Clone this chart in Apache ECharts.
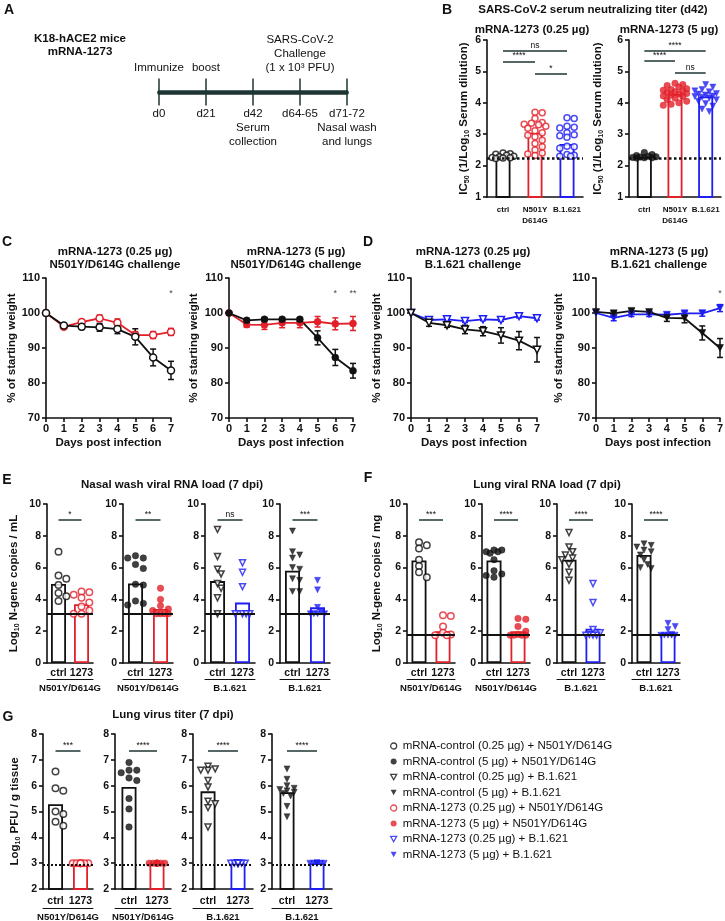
<!DOCTYPE html>
<html>
<head>
<meta charset="utf-8">
<script src="https://cdn.jsdelivr.net/npm/echarts@6/dist/echarts.min.js"></script>
<style>
  html, body { margin: 0; padding: 0; background: #fff; }
  #main { width: 725px; height: 921px; }
</style>
</head>
<body>
<div id="main"></div>
<script>
// ---------- data ----------
const timelineDays = ['d0', 'd21', 'd42\nSerum\ncollection', 'd64-65', 'd71-72\nNasal wash\nand lungs'];
const timelineEvents = ['Immunize', 'boost', '', 'SARS-CoV-2\nChallenge\n(1 x 10³ PFU)', ''];

// B: neutralizing titer
const titerGroups = ['ctrl', 'N501Y\nD614G', 'B.1.621'];
const titerLod = 2.25;
const titerLowCtrl = [2.40, 2.38, 2.36, 2.33, 2.30, 2.28, 2.26, 2.25, 2.24, 2.23];
const titerLowN501Y = [3.70, 3.68, 3.50, 3.37, 3.35, 3.32, 3.30, 3.25, 3.19, 3.11, 3.05, 2.97, 2.92, 2.81, 2.70, 2.60, 2.50, 2.40, 2.37, 2.32];
const titerLowB1621 = [3.52, 3.50, 3.25, 3.22, 3.20, 3.05, 2.98, 2.95, 2.90, 2.62, 2.60, 2.55, 2.35, 2.33, 2.30, 2.30];
const titerLowBars = [2.33, 3.05, 2.69];
const titerLowSig = [[0, 2, 5.65, 'ns'], [0, 1, 5.32, '****'], [1, 2, 4.92, '*']];
const titerHighCtrl = [2.42, 2.35, 2.32, 2.30, 2.28, 2.27, 2.26, 2.25, 2.25, 2.24];
const titerHighN501Y = [4.62, 4.58, 4.55, 4.50, 4.45, 4.42, 4.40, 4.38, 4.35, 4.33, 4.30, 4.28, 4.25, 4.22, 4.20, 4.15, 4.10, 4.05, 4.00, 3.95, 3.92];
const titerHighB1621 = [4.58, 4.50, 4.42, 4.38, 4.35, 4.30, 4.28, 4.25, 4.22, 4.20, 4.18, 4.15, 4.10, 4.05, 3.98, 3.90, 3.80, 3.72];
const titerHighBars = [2.28, 4.28, 4.20];
const titerHighSig = [[0, 2, 5.65, '****'], [0, 1, 5.33, '****'], [1, 2, 4.95, 'ns']];

// C, D: weight curves (mean, SEM)
const weightDays = [0, 1, 2, 3, 4, 5, 6, 7];
const weightSigLevel = 105.5;
const wN501YLowCtrl = [100, 96.4, 96.1, 95.9, 95.4, 93.2, 87.3, 83.6];
const wN501YLowCtrlSem = [0, 0.6, 0.8, 1.1, 1.3, 2.3, 2.4, 2.6];
const wN501YLowVac = [100, 96.1, 97.4, 98.5, 97.2, 93.7, 93.7, 94.6];
const wN501YLowVacSem = [0, 0.5, 0.7, 0.9, 1.1, 1.0, 1.0, 1.0];
const wN501YLowSig = [[7, '*']];
const wN501YHighCtrl = [100, 97.9, 98.2, 98.2, 98.2, 92.9, 87.3, 83.5];
const wN501YHighCtrlSem = [0, 0.5, 0.5, 0.5, 0.5, 2.0, 2.3, 2.1];
const wN501YHighVac = [100, 96.7, 96.6, 97.2, 97.2, 97.5, 96.9, 97.0];
const wN501YHighVacSem = [0, 0.8, 1.3, 1.4, 1.4, 1.5, 1.7, 2.0];
const wN501YHighSig = [[6, '*'], [7, '**']];
const wB1621LowCtrl = [100, 97.2, 96.5, 95.3, 94.8, 93.6, 92.1, 89.5];
const wB1621LowCtrlSem = [0, 1.0, 0.6, 1.2, 1.3, 2.2, 2.6, 3.5];
const wB1621LowVac = [100, 98.0, 98.2, 97.7, 98.2, 98.0, 99.1, 98.5];
const wB1621LowVacSem = [0, 0.4, 0.4, 0.4, 0.4, 0.4, 0.5, 0.5];
const wB1621LowSig = [];
const wB1621HighCtrl = [100.3, 99.9, 100.6, 100.3, 98.6, 98.5, 94.3, 90.0];
const wB1621HighCtrlSem = [0, 0.6, 0.6, 0.6, 1.0, 1.3, 2.0, 2.7];
const wB1621HighVac = [100, 98.6, 99.6, 99.6, 99.5, 99.9, 99.9, 101.4];
const wB1621HighVacSem = [0, 0.8, 0.6, 0.6, 0.6, 0.6, 0.8, 1.0];
const wB1621HighSig = [[7, '*']];

// E, F, G: per panel [0.25 N501Y, 5 N501Y, 0.25 B.1.621, 5 B.1.621]
const assayCats = ['ctrl', '1273'];
const challengeGroups = ['N501Y/D614G', 'N501Y/D614G', 'B.1.621', 'B.1.621'];

const nasalCtrl = [
  [7.0, 5.5, 5.3, 4.9, 4.4, 4.2, 3.9],
  [6.75, 6.6, 6.6, 6.2, 5.95, 4.95, 4.9, 3.9, 3.75, 3.65],
  [8.4, 6.7, 5.9, 5.6, 5.0, 4.7, 4.1, 3.1],
  [8.3, 7.0, 6.8, 6.6, 6.0, 5.9, 5.3, 5.2, 4.5, 4.5]
];
const nasalVac = [
  [4.5, 4.45, 4.3, 4.1, 3.8, 3.55, 3.3, 3.1, 3.1],
  [4.7, 4.0, 3.6, 3.4, 3.3, 3.1, 3.1, 3.1, 3.1],
  [6.3, 5.7, 4.8, 3.1, 3.1, 3.1, 3.1],
  [5.2, 4.6, 3.5, 3.2, 3.1, 3.1, 3.1, 3.1]
];
const nasalCtrlBars = [4.97, 5.0, 5.15, 5.8];
const nasalVacBars = [3.7, 3.4, 3.8, 3.5];
const nasalSig = ['*', '**', 'ns', '***'];
const nasalLod = 3.1;

const lungRnaCtrl = [
  [7.6, 7.4, 7.2, 6.5, 6.1, 5.7, 5.4],
  [7.1, 7.1, 7.0, 7.0, 6.9, 6.5, 5.8, 5.6, 5.5, 5.4],
  [8.2, 7.3, 7.0, 6.8, 6.6, 6.5, 6.2, 5.7, 5.2],
  [7.5, 7.4, 7.3, 7.1, 7.0, 6.8, 6.5, 6.2, 6.0, 5.95]
];
const lungRnaVac = [
  [3.0, 2.95, 2.3, 1.9, 1.8, 1.75, 1.75],
  [2.8, 2.75, 2.3, 2.0, 1.8, 1.75, 1.75, 1.75, 1.75],
  [5.0, 3.8, 2.1, 1.9, 1.8, 1.75, 1.75, 1.75],
  [2.5, 2.3, 2.1, 1.8, 1.75, 1.75, 1.75, 1.75, 1.75]
];
const lungRnaCtrlBars = [6.45, 6.45, 6.5, 6.8];
const lungRnaVacBars = [2.0, 2.0, 2.15, 1.85];
const lungRnaSig = ['***', '****', '****', '****'];
const lungRnaLod = 1.75;

const pfuCtrl = [
  [6.55, 5.9, 5.8, 5.0, 4.9, 4.6, 4.45],
  [6.9, 6.6, 6.6, 6.5, 6.3, 6.2, 5.5, 5.1, 4.4],
  [6.75, 6.65, 6.6, 6.6, 6.2, 5.95, 5.4, 5.3, 5.15, 4.4],
  [6.65, 6.25, 6.0, 5.9, 5.85, 5.8, 5.75, 5.7, 5.6, 5.2, 4.8]
];
const pfuVac = [
  [3, 3, 3, 3, 3, 3, 3],
  [3, 3, 3, 3, 3, 3, 3, 3, 3],
  [3, 3, 3, 3, 3, 3, 3, 3, 3, 3],
  [3, 3, 3, 3, 3, 3, 3, 3, 3, 3]
];
const pfuCtrlBars = [5.28, 5.95, 5.78, 5.75];
const pfuVacBars = [3.0, 3.0, 3.0, 3.0];
const pfuSig = ['***', '****', '****', '****'];
const pfuLod = 2.95;

const legendNames = [
  'mRNA-control (0.25 µg) + N501Y/D614G',
  'mRNA-control (5 µg) + N501Y/D614G',
  'mRNA-control (0.25 µg) + B.1.621',
  'mRNA-control (5 µg) + B.1.621',
  'mRNA-1273 (0.25 µg) + N501Y/D614G',
  'mRNA-1273 (5 µg) + N501Y/D614G',
  'mRNA-1273 (0.25 µg) + B.1.621',
  'mRNA-1273 (5 µg) + B.1.621'
];

// ---------- styling ----------
const FONT = '"Liberation Sans", Arial, Helvetica, sans-serif';
const INK = '#111111';
const RED = '#e2202a';
const BLUE = '#1e1ef2';
const TEAL = '#1c3633';
const TRI = 'path://M0,0L10,0L5,9Z';

const option = {
  animation: false,
  backgroundColor: '#fff',
  textStyle: { fontFamily: FONT },
  grid: [], xAxis: [], yAxis: [], series: [],
  graphic: { elements: [] }
};

function text(x, y, str, size, bold) {
  option.graphic.elements.push({
    type: 'text', x: x, y: y, silent: true,
    style: { text: str, fontSize: size, fontWeight: bold ? 'bold' : 'normal', fontFamily: FONT,
      fill: INK, align: 'center', verticalAlign: 'middle' }
  });
}

function addGrid(left, top, width, height) {
  option.grid.push({ left: left, top: top, width: width, height: height, outerBoundsMode: 'none' });
  return option.grid.length - 1;
}

function symStyle(shape, filled, color) {
  return {
    symbol: shape,
    itemStyle: filled ? { color: color, borderColor: color, borderWidth: 0.5 }
                      : { color: '#fff', borderColor: color, borderWidth: 1.5 }
  };
}

const nameStyle = {
  color: INK, fontFamily: FONT, fontWeight: 'bold', fontSize: 11.5,
  rich: {
    n: { fontSize: 11.5, fontWeight: 'bold', fontFamily: FONT, color: INK, lineHeight: 14 },
    s: { fontSize: 7, fontWeight: 'bold', fontFamily: FONT, color: INK, lineHeight: 14, verticalAlign: 'bottom' }
  }
};

function valueY(g, min, max, interval, tickSize, name, gap) {
  option.yAxis.push({
    gridIndex: g, type: 'value', min: min, max: max, interval: interval,
    splitLine: { show: false },
    axisLine: { show: true, onZero: false, lineStyle: { color: INK, width: 1.6 } },
    axisTick: { show: true, length: 4, lineStyle: { color: INK, width: 1.6 } },
    axisLabel: { margin: 6, color: INK, fontFamily: FONT, fontWeight: 'bold', fontSize: tickSize },
    name: name, nameLocation: 'middle', nameGap: gap, nameTextStyle: nameStyle
  });
  return option.yAxis.length - 1;
}

// simple deterministic beeswarm: horizontal pixel offsets so points do not overlap
function swarm(values, pxPerUnit, size, maxOff) {
  const step = size * 0.6;
  const cands = [0];
  for (let k = 1; k * step <= maxOff + 0.01; k++) cands.push(k * step, -k * step);
  const placed = [];
  const offs = new Array(values.length).fill(0);
  const order = values.map((v, i) => i).sort((a, b) => values[b] - values[a]);
  order.forEach(i => {
    const y = values[i] * pxPerUnit;
    let best = 0, bestGap = -1;
    for (const dx of cands) {
      let gap = Infinity;
      placed.forEach(p => { gap = Math.min(gap, Math.hypot(p.x - dx, p.y - y)); });
      if (gap >= size * 0.95) { best = dx; break; }
      if (gap > bestGap) { bestGap = gap; best = dx; }
    }
    offs[i] = best;
    placed.push({ x: best, y: y });
  });
  return offs;
}

function columnPanel(c) {
  const g = addGrid(c.left, c.top, c.width, c.height);
  const xi = option.xAxis.length;
  option.xAxis.push({
    gridIndex: g, type: 'category', data: c.cats,
    axisLine: { show: true, onZero: false, lineStyle: { color: INK, width: 1.6 } },
    axisTick: { show: false },
    axisLabel: { interval: 0, margin: c.catMargin, color: INK, fontFamily: FONT, fontWeight: 'bold',
      fontSize: c.catSize, lineHeight: c.catSize + 3 }
  });
  if (c.group) {
    option.xAxis.push({
      gridIndex: g, type: 'category', data: c.cats, position: 'bottom', offset: c.underline,
      axisLine: { show: true, onZero: false, lineStyle: { color: INK, width: 1 } },
      axisTick: { show: false }, axisLabel: { show: false },
      name: c.group, nameLocation: 'middle', nameGap: 4,
      nameTextStyle: { color: INK, fontFamily: FONT, fontWeight: 'bold', fontSize: 9.5 }
    });
  }
  const yi = valueY(g, c.yMin, c.yMax, c.yInt, c.tickSize, c.yName, c.yNameGap);

  option.series.push({
    type: 'bar', xAxisIndex: xi, yAxisIndex: yi, barWidth: 15, z: 2, silent: true,
    itemStyle: { color: 'rgba(0,0,0,0)', borderWidth: 1.8 },
    data: c.bars.map((v, i) => ({ value: v, itemStyle: { borderColor: c.colors[i] } })),
    markLine: {
      silent: true, symbol: 'none', animation: false,
      label: { show: true, formatter: '{b}', position: 'insideMiddleTop', distance: 1,
        fontSize: 8.5, color: INK, fontFamily: FONT },
      lineStyle: { color: TEAL, width: 1.5, type: 'solid' },
      emphasis: { disabled: true },
      data: c.sig.map(s => [{ coord: [s[0], s[2]], name: s[3] }, { coord: [s[1], s[2]] }])
        .concat([{ yAxis: c.lod, name: '', label: { show: false },
          lineStyle: { color: INK, width: c.lodWidth, type: c.lodType } }])
    }
  });

  c.groups.forEach((vals, i) => {
    const st = c.styles[i];
    const size = st.symbol === TRI ? c.symSize - 0.5 : c.symSize;
    const offs = swarm(vals, c.height / (c.yMax - c.yMin), size, c.maxOff);
    option.series.push({
      type: 'scatter', name: c.names ? c.names[i] : undefined,
      xAxisIndex: xi, yAxisIndex: yi, z: 4, silent: true,
      symbol: st.symbol, symbolSize: size, itemStyle: st.itemStyle,
      data: vals.map((v, j) => ({ value: [i, v], symbolOffset: [offs[j], 0] }))
    });
  });
}

function weightPanel(c) {
  const g = addGrid(c.left, 278, c.width, 140);
  const xi = option.xAxis.length;
  option.xAxis.push({
    gridIndex: g, type: 'value', min: 0, max: 7, interval: 1, splitLine: { show: false },
    axisLine: { show: true, onZero: false, lineStyle: { color: INK, width: 1.6 } },
    axisTick: { show: true, length: 4, lineStyle: { color: INK, width: 1.6 } },
    axisLabel: { margin: 5, color: INK, fontFamily: FONT, fontWeight: 'bold', fontSize: 11 },
    name: 'Days post infection', nameLocation: 'middle', nameGap: 19,
    nameTextStyle: { color: INK, fontFamily: FONT, fontWeight: 'bold', fontSize: 11.5 }
  });
  const yi = valueY(g, 70, 110, 10, 11, '% of starting weight', c.nameGap);

  [[c.vac, c.vacSem, c.color], [c.ctrl, c.ctrlSem, INK]].forEach(([m, s, col]) => {
    option.series.push({
      type: 'custom', xAxisIndex: xi, yAxisIndex: yi, z: 2, silent: true,
      data: weightDays.map((d, i) => [d, m[i] - s[i], m[i] + s[i]]).filter((p, i) => s[i] > 0),
      renderItem: (params, api) => {
        const lo = api.coord([api.value(0), api.value(1)]);
        const hi = api.coord([api.value(0), api.value(2)]);
        const st = { stroke: col, lineWidth: 1.5 };
        return { type: 'group', children: [
          { type: 'line', shape: { x1: lo[0], y1: lo[1], x2: hi[0], y2: hi[1] }, style: st },
          { type: 'line', shape: { x1: lo[0] - 3, y1: lo[1], x2: lo[0] + 3, y2: lo[1] }, style: st },
          { type: 'line', shape: { x1: hi[0] - 3, y1: hi[1], x2: hi[0] + 3, y2: hi[1] }, style: st }
        ] };
      }
    });
    const ss = symStyle(c.shape, c.filled, col);
    option.series.push({
      type: 'line', xAxisIndex: xi, yAxisIndex: yi, z: 3, silent: true,
      symbol: ss.symbol, symbolSize: 7, showAllSymbol: true,
      lineStyle: { color: col, width: 1.8 }, itemStyle: ss.itemStyle,
      data: weightDays.map((d, i) => [d, m[i]])
    });
  });

  if (c.sig.length) {
    option.series.push({
      type: 'scatter', xAxisIndex: xi, yAxisIndex: yi, symbolSize: 1, silent: true,
      itemStyle: { color: 'rgba(0,0,0,0)' },
      label: { show: true, position: 'inside', formatter: '{b}', fontSize: 9, color: INK, fontFamily: FONT },
      data: c.sig.map(s => ({ name: s[1], value: [s[0], weightSigLevel] }))
    });
  }
}

// ---------- A: timeline ----------
text(9, 10, 'A', 14, true);
text(80, 39, 'K18-hACE2 mice', 11.5, true);
text(80, 52, 'mRNA-1273', 11.5, true);
(function () {
  const g = addGrid(159, 91.5, 188, 1);
  const line = { show: true, onZero: false, lineStyle: { color: TEAL, width: 3.5 } };
  const tick = { show: true, length: 13, interval: 0, lineStyle: { color: TEAL, width: 1.5 } };
  const xb = option.xAxis.length;
  option.xAxis.push({
    gridIndex: g, type: 'category', data: timelineDays, boundaryGap: false, position: 'bottom',
    axisLine: line, axisTick: tick,
    axisLabel: { interval: 0, margin: 14, fontSize: 11.5, color: INK, fontFamily: FONT, lineHeight: 14 }
  });
  option.xAxis.push({
    gridIndex: g, type: 'category', data: timelineDays, boundaryGap: false, position: 'top',
    axisLine: line, axisTick: tick,
    axisLabel: { interval: 0, margin: 17, fontSize: 11.5, color: INK, fontFamily: FONT, lineHeight: 14,
      formatter: (v, i) => timelineEvents[i] }
  });
  const yi = option.yAxis.length;
  option.yAxis.push({ gridIndex: g, type: 'value', show: false, min: 0, max: 1 });
  option.series.push({ type: 'line', xAxisIndex: xb, yAxisIndex: yi, data: [], silent: true });
})();

// ---------- B: titers ----------
text(447, 10, 'B', 14, true);
text(593, 10, 'SARS-CoV-2 serum neutralizing titer (d42)', 11.5, true);
text(532, 30, 'mRNA-1273 (0.25 µg)', 11.5, true);
text(669, 30, 'mRNA-1273 (5 µg)', 11.5, true);
const titerName = '{n|IC}{s|50}{n| (1/Log}{s|10}{n| Serum dilution)}';
columnPanel({
  left: 487, top: 40, width: 96, height: 157, cats: titerGroups, catSize: 8, catMargin: 7,
  yMin: 1, yMax: 6, yInt: 1, tickSize: 10.5, yName: titerName, yNameGap: 16,
  bars: titerLowBars, colors: [INK, RED, BLUE],
  groups: [titerLowCtrl, titerLowN501Y, titerLowB1621],
  styles: [symStyle('circle', false, INK), symStyle('circle', false, RED), symStyle('circle', false, BLUE)],
  sig: titerLowSig, lod: titerLod, lodType: 'dotted', lodWidth: 2.5, symSize: 6, maxOff: 13
});
columnPanel({
  left: 629, top: 40, width: 92, height: 157, cats: titerGroups, catSize: 8, catMargin: 7,
  yMin: 1, yMax: 6, yInt: 1, tickSize: 10.5, yName: titerName, yNameGap: 24,
  bars: titerHighBars, colors: [INK, RED, BLUE],
  groups: [titerHighCtrl, titerHighN501Y, titerHighB1621],
  styles: [symStyle('circle', true, INK), symStyle('circle', true, RED), symStyle(TRI, true, BLUE)],
  sig: titerHighSig, lod: titerLod, lodType: 'dotted', lodWidth: 2.5, symSize: 6.5, maxOff: 13
});

// ---------- C, D: weight ----------
text(7, 242, 'C', 14, true);
text(115, 252, 'mRNA-1273 (0.25 µg)', 11.5, true);
text(115, 265, 'N501Y/D614G challenge', 11.5, true);
text(296, 252, 'mRNA-1273 (5 µg)', 11.5, true);
text(296, 265, 'N501Y/D614G challenge', 11.5, true);
text(368, 242, 'D', 14, true);
text(473, 252, 'mRNA-1273 (0.25 µg)', 11.5, true);
text(473, 265, 'B.1.621 challenge', 11.5, true);
text(659, 252, 'mRNA-1273 (5 µg)', 11.5, true);
text(659, 265, 'B.1.621 challenge', 11.5, true);

weightPanel({ left: 46, width: 125, nameGap: 27, shape: 'circle', filled: false, color: RED,
  ctrl: wN501YLowCtrl, ctrlSem: wN501YLowCtrlSem, vac: wN501YLowVac, vacSem: wN501YLowVacSem, sig: wN501YLowSig });
weightPanel({ left: 229, width: 124, nameGap: 29, shape: 'circle', filled: true, color: RED,
  ctrl: wN501YHighCtrl, ctrlSem: wN501YHighCtrlSem, vac: wN501YHighVac, vacSem: wN501YHighVacSem, sig: wN501YHighSig });
weightPanel({ left: 411, width: 126, nameGap: 26, shape: TRI, filled: false, color: BLUE,
  ctrl: wB1621LowCtrl, ctrlSem: wB1621LowCtrlSem, vac: wB1621LowVac, vacSem: wB1621LowVacSem, sig: wB1621LowSig });
weightPanel({ left: 596, width: 124, nameGap: 31, shape: TRI, filled: true, color: BLUE,
  ctrl: wB1621HighCtrl, ctrlSem: wB1621HighCtrlSem, vac: wB1621HighVac, vacSem: wB1621HighVacSem, sig: wB1621HighSig });

// ---------- E, F, G: viral loads ----------
const panelKinds = [
  { shape: 'circle', filled: false, color: RED, names: [legendNames[0], legendNames[4]] },
  { shape: 'circle', filled: true, color: RED, names: [legendNames[1], legendNames[5]] },
  { shape: TRI, filled: false, color: BLUE, names: [legendNames[2], legendNames[6]] },
  { shape: TRI, filled: true, color: BLUE, names: [legendNames[3], legendNames[7]] }
];

function assayRow(r) {
  r.lefts.forEach((left, k) => {
    const kind = panelKinds[k];
    columnPanel({
      left: left, top: r.top, width: r.widths[k], height: r.height,
      cats: assayCats, catSize: 10.5, catMargin: r.catMargin, underline: r.underline, group: challengeGroups[k],
      yMin: r.yMin, yMax: r.yMax, yInt: r.yInt, tickSize: 10.5,
      yName: k === 0 ? r.yName : '', yNameGap: r.yNameGap,
      bars: [r.ctrlBars[k], r.vacBars[k]], colors: [INK, kind.color],
      groups: [r.ctrl[k], r.vac[k]],
      styles: [symStyle(kind.shape, kind.filled, INK), symStyle(kind.shape, kind.filled, kind.color)],
      names: kind.names,
      sig: [[0, 1, r.sigY, r.sig[k]]], lod: r.lod, lodType: r.lodType, lodWidth: 2,
      symSize: 6.5, maxOff: 8
    });
  });
}

text(7, 480, 'E', 14, true);
text(172, 485, 'Nasal wash viral RNA load (7 dpi)', 11.5, true);
assayRow({
  lefts: [47, 123, 205, 280], widths: [46, 50, 50, 50], top: 504, height: 159,
  yMin: 0, yMax: 10, yInt: 2, catMargin: 3, underline: 16,
  yName: '{n|Log}{s|10}{n| N-gene copies / mL}', yNameGap: 26,
  ctrl: nasalCtrl, vac: nasalVac, ctrlBars: nasalCtrlBars, vacBars: nasalVacBars,
  sig: nasalSig, sigY: 9.0, lod: nasalLod, lodType: 'solid'
});

text(368, 478, 'F', 14, true);
text(547, 485, 'Lung viral RNA load (7 dpi)', 11.5, true);
assayRow({
  lefts: [407, 482, 557, 632], widths: [48, 48, 48, 48], top: 504, height: 159,
  yMin: 0, yMax: 10, yInt: 2, catMargin: 3, underline: 16,
  yName: '{n|Log}{s|10}{n| N-gene copies / mg}', yNameGap: 23,
  ctrl: lungRnaCtrl, vac: lungRnaVac, ctrlBars: lungRnaCtrlBars, vacBars: lungRnaVacBars,
  sig: lungRnaSig, sigY: 9.0, lod: lungRnaLod, lodType: 'solid'
});

text(8, 717, 'G', 14, true);
text(173, 715, 'Lung virus titer (7 dpi)', 11.5, true);
assayRow({
  lefts: [43, 115, 193, 272], widths: [50, 56, 60, 60], top: 734, height: 155,
  yMin: 2, yMax: 8, yInt: 1, catMargin: 5, underline: 19,
  yName: '{n|Log}{s|10}{n| PFU / g tissue}', yNameGap: 21,
  ctrl: pfuCtrl, vac: pfuVac, ctrlBars: pfuCtrlBars, vacBars: pfuVacBars,
  sig: pfuSig, sigY: 7.35, lod: pfuLod, lodType: 'dotted'
});

// ---------- legend ----------
const legendIcons = [
  ['circle', false, INK], ['circle', true, INK], [TRI, false, INK], [TRI, true, INK],
  ['circle', false, RED], ['circle', true, RED], [TRI, false, BLUE], [TRI, true, BLUE]
];
option.legend = {
  orient: 'vertical', left: 390, top: 740, padding: 0, itemGap: 3.5,
  itemWidth: 6, itemHeight: 6, selectedMode: false,
  textStyle: { fontFamily: FONT, fontSize: 11.5, color: INK, lineHeight: 12, padding: [0, 0, 0, 1] },
  data: legendNames.map((n, i) => ({
    name: n, icon: legendIcons[i][0],
    itemStyle: legendIcons[i][1]
      ? { color: legendIcons[i][2], borderColor: legendIcons[i][2], borderWidth: 0 }
      : { color: '#fff', borderColor: legendIcons[i][2], borderWidth: 1.3 }
  }))
};

const chart = echarts.init(document.getElementById('main'), null, { renderer: 'canvas' });
chart.setOption(option);
</script>
</body>
</html>
